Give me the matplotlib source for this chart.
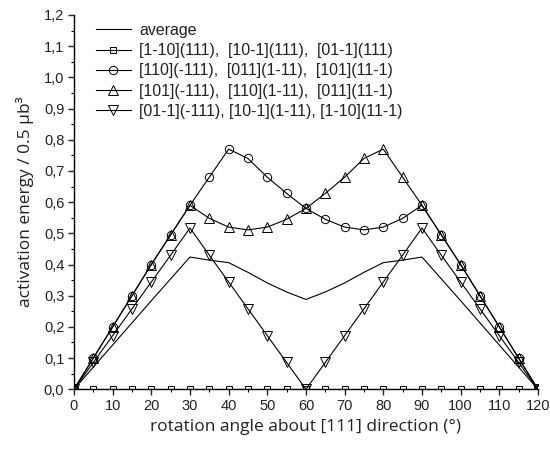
import numpy as np
import matplotlib.pyplot as plt
from matplotlib.ticker import MultipleLocator, FuncFormatter

plt.rcParams['font.family'] = ['Liberation Sans', 'DejaVu Sans']

# rotation angle about [111], degrees
angle = [0, 5, 10, 15, 20, 25, 30, 35, 40, 45, 50, 55, 60,
         65, 70, 75, 80, 85, 90, 95, 100, 105, 110, 115, 120]

# activation energy / 0.5 ub^3
average = [0.0, 0.071, 0.142, 0.213, 0.284, 0.354, 0.424, 0.414, 0.406, 0.375, 0.341, 0.312, 0.288,
           0.312, 0.341, 0.375, 0.406, 0.414, 0.424, 0.354, 0.284, 0.213, 0.142, 0.071, 0.0]
sq_sys = [0.0] * 25
circ_sys = [0.0, 0.1, 0.2, 0.3, 0.4, 0.495, 0.59, 0.68, 0.77, 0.74, 0.68, 0.628, 0.58,
            0.545, 0.52, 0.511, 0.52, 0.548, 0.59, 0.495, 0.4, 0.3, 0.2, 0.1, 0.0]
tri_sys = [0.0, 0.1, 0.2, 0.3, 0.4, 0.495, 0.59, 0.548, 0.52, 0.511, 0.52, 0.545, 0.58,
           0.628, 0.68, 0.74, 0.77, 0.68, 0.59, 0.495, 0.4, 0.3, 0.2, 0.1, 0.0]
vtri_sys = [0.0, 0.086, 0.172, 0.258, 0.344, 0.43, 0.517, 0.43, 0.344, 0.258, 0.172, 0.086, 0.0,
            0.086, 0.172, 0.258, 0.344, 0.43, 0.517, 0.43, 0.344, 0.258, 0.172, 0.086, 0.0]

labels = ['average',
          '[1-10](111),  [10-1](111),  [01-1](111)',
          '[110](-111),  [011](1-11),  [101](11-1)',
          '[101](-111),  [110](1-11),  [011](11-1)',
          '[01-1](-111), [10-1](1-11), [1-10](11-1)']

fig = plt.figure(figsize=(5.5, 4.49), dpi=100)
ax = fig.add_axes([0.1345, 0.133, 0.8436, 0.8336])

lw = 0.8
ax.plot(angle, average, color='black', lw=lw, label=labels[0])
ax.plot(angle, sq_sys, color='black', lw=lw, marker='s', ms=5, mfc='none', mew=0.7, label=labels[1])
ax.plot(angle, circ_sys, color='black', lw=lw, marker='o', ms=6, mfc='none', mew=0.7, label=labels[2])
ax.plot(angle, tri_sys, color='black', lw=lw, marker='^', ms=7, mfc='none', mew=0.7, label=labels[3])
ax.plot(angle, vtri_sys, color='black', lw=lw, marker='v', ms=7, mfc='none', mew=0.7, label=labels[4])

ax.set_xlim(0, 120)
ax.set_ylim(0, 1.2)
ax.xaxis.set_major_locator(MultipleLocator(10))
ax.xaxis.set_minor_locator(MultipleLocator(5))
ax.yaxis.set_major_locator(MultipleLocator(0.1))
ax.yaxis.set_minor_locator(MultipleLocator(0.05))
ax.yaxis.set_major_formatter(FuncFormatter(lambda v, p: f'{v:.1f}'.replace('.', ',')))

for s in ['top', 'right']:
    ax.spines[s].set_visible(False)
ax.spines['left'].set_linewidth(1.0)
ax.spines['bottom'].set_linewidth(1.0)
ax.tick_params(which='major', length=4.5, width=1.0, labelsize=10.5, pad=2.5, colors='#222222')
ax.tick_params(which='minor', length=2.5, width=0.8)

ax.set_xlabel('rotation angle about [111] direction (°)', fontsize=12.5, family='Open Sans',
              labelpad=4, color='#222222')
ax.set_ylabel('activation energy / 0.5 µb³', fontsize=12.5, family='Open Sans',
              labelpad=7, color='#222222')

ax.legend(loc='upper left', bbox_to_anchor=(0.03, 1.0), frameon=False, fontsize=11.4,
          handlelength=2.2, labelspacing=0.33, handletextpad=0.55, borderaxespad=0.1,
          labelcolor='#222222')

fig.savefig('out.png', dpi=100)
